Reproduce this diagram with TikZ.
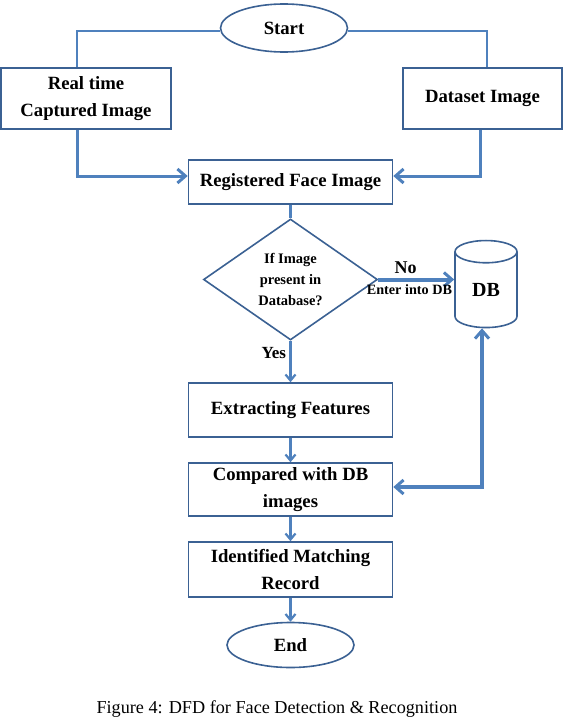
\documentclass[tikz,border=0pt]{standalone}
\usepackage{fontspec}
\setmainfont{Liberation Serif}
\usetikzlibrary{shapes.geometric,arrows.meta}

\definecolor{lineblue}{HTML}{4F81BD}
\definecolor{boxblue}{HTML}{3B6193}

\newcommand\flowfont{\fontsize{18.7}{27}\selectfont\bfseries}
\newcommand\smallflowfont{\fontsize{14.5}{21}\selectfont\bfseries}

\begin{document}
\begin{tikzpicture}[x=1pt,y=-1pt]

	\tikzstyle{box} = [draw=boxblue, line width=1.6pt, inner sep=0pt, minimum width=204pt, minimum height=54pt, align=center, font=\flowfont];
	\tikzstyle{term} = [draw=boxblue, ellipse, line width=1.6pt, inner sep=0pt, minimum width=127pt, minimum height=48pt, font=\flowfont];
	\tikzstyle{flow} = [draw=lineblue, line width=2.2pt, -{Straight Barb[length=6pt,width=10pt,line width=2.2pt]}];
	\tikzstyle{bigflow} = [draw=lineblue, line width=3pt, -{Straight Barb[length=8pt,width=14pt,line width=3pt]}];

	\useasboundingbox (0,0) rectangle (564,720);

	\node[term] (start) at (284,28) {Start};
	\node[box, minimum width=170pt, minimum height=61pt] (realtime) at (86,98.5) {Real time\\Captured Image};
	\node[box, minimum width=159pt, minimum height=61pt] (dataset) at (482.5,98.5) {Dataset Image};
	\node[box, minimum height=44pt] (reg) at (290.5,182) {Registered Face Image};
	\node[draw=boxblue, diamond, line width=1.6pt, inner sep=0pt, minimum width=174pt, minimum height=121pt, align=center, font=\smallflowfont, below of=reg, node distance=97.5pt] (check) {If Image\\present in\\Database?};
	\node[box, below of=check, node distance=130.5pt] (extract) {Extracting Features};
	\node[box, minimum height=53pt, below of=extract, node distance=79.5pt] (compare) {Compared with DB\\images};
	\node[box, minimum height=55pt, below of=compare, node distance=80pt] (match) {Identified Matching\\Record};
	\node[term, minimum height=45pt, below of=match, node distance=75.5pt] (end) {End};
	\node[draw=boxblue, cylinder, shape border rotate=90, aspect=0.8, line width=1.6pt, inner sep=0pt, minimum width=62pt, minimum height=87pt, font=\fontsize{20}{24}\selectfont\bfseries] (db) at (486,290) {\raisebox{-6pt}{DB}};

	\node[font=\fontsize{18.2}{22}\selectfont] (caption) at (277,709) {Figure 4: DFD for Face Detection \& Recognition};

	\draw[lineblue, line width=2pt] ([yshift=-3pt]start.west) -| ([xshift=-9pt]realtime.north);
	\draw[lineblue, line width=2pt] ([yshift=-3pt]start.east) -| ([xshift=4.5pt]dataset.north);
	\draw[bigflow] ([xshift=-9pt]realtime.south) |- ([yshift=6pt]reg.west);
	\draw[bigflow] ([xshift=-2.5pt]dataset.south) |- ([yshift=6pt]reg.east);
	\draw[lineblue, line width=2.2pt] (reg.south) -- (check.north);
	\draw[bigflow, line width=4pt] (check.east) -- node[pos=0.36, above, font=\fontsize{18}{22}\selectfont\bfseries] (no) {No} node[pos=0.41, below, font=\fontsize{14.2}{18}\selectfont\bfseries] (enter) {Enter into DB} (check.east -| db.west);
	\draw[flow] (check.south) -- node[pos=0.3, left, font=\fontsize{17}{20}\selectfont\bfseries] (yes) {Yes} (extract.north);
	\draw[flow] (extract) -- (compare);
	\draw[flow] (compare) -- (match);
	\draw[flow] (match) -- (end);
	\draw[bigflow, line width=4pt, {Straight Barb[length=8pt,width=14pt,line width=3pt]}-{Straight Barb[length=8pt,width=14pt,line width=3pt]}] ([xshift=-4pt]db.south) |- ([yshift=2.5pt]compare.east);

\end{tikzpicture}
\end{document}
